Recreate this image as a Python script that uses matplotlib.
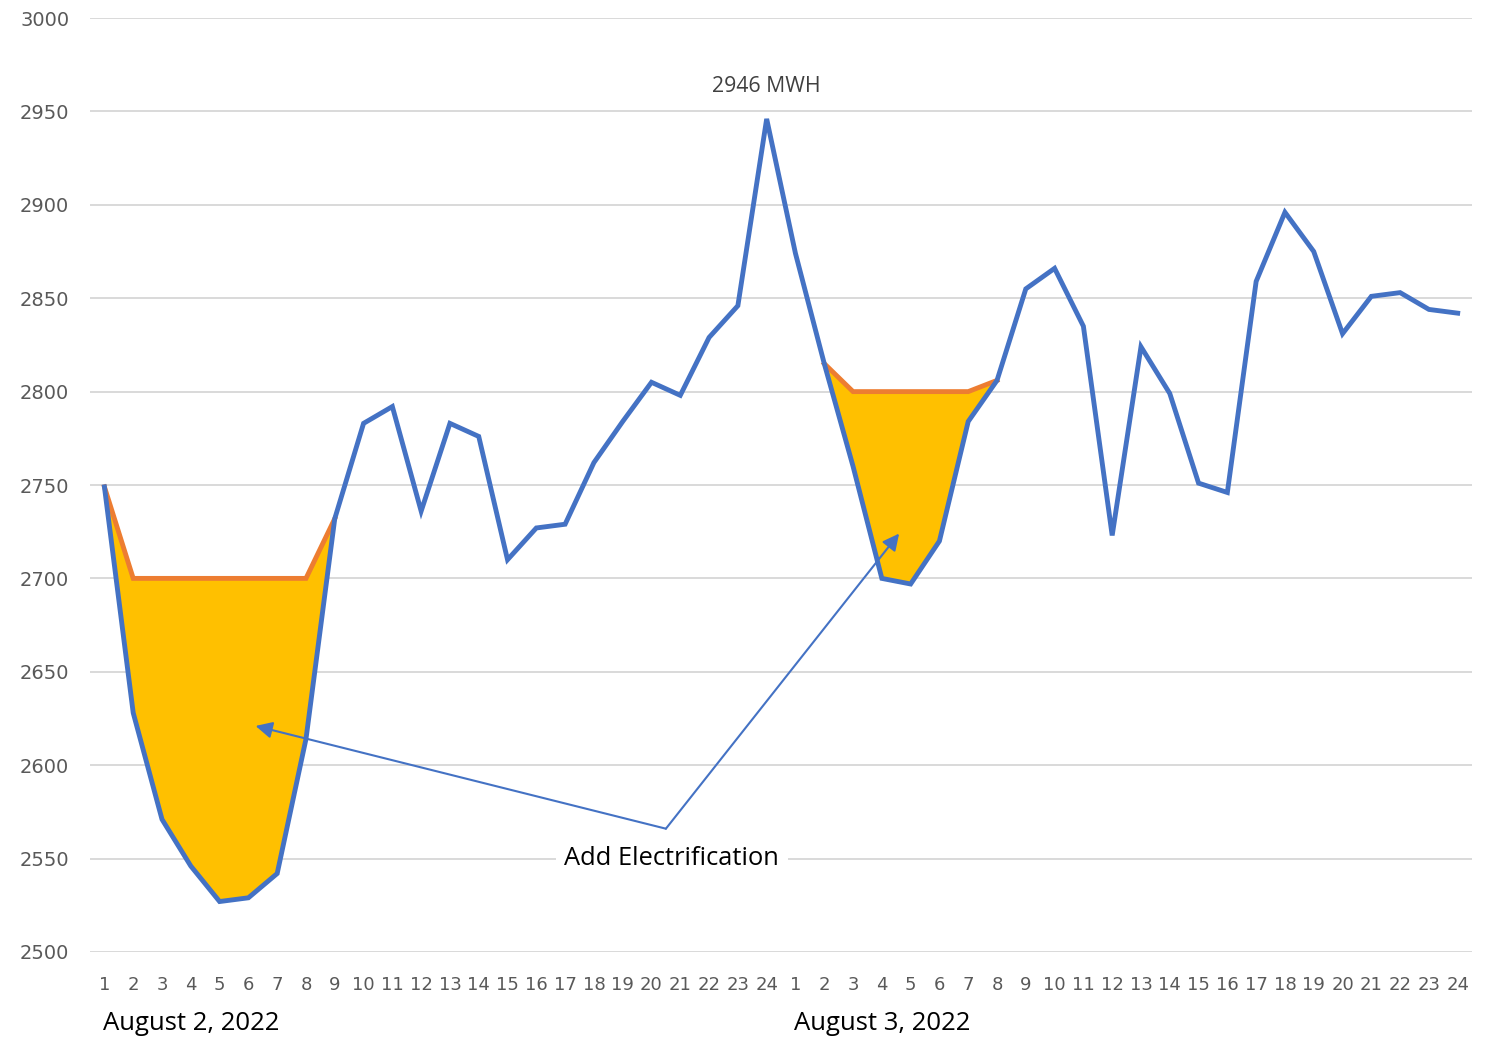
import matplotlib
matplotlib.use('Agg')
import matplotlib.pyplot as plt
import numpy as np

## DADOS
hours = list(range(1, 25)) * 2
load = [2749, 2628, 2571, 2546, 2527, 2529, 2542, 2614, 2732, 2783, 2792, 2736,
        2783, 2776, 2710, 2727, 2729, 2762, 2784, 2805, 2798, 2829, 2846, 2946,
        2874, 2815, 2760, 2700, 2697, 2720, 2784, 2806, 2855, 2866, 2835, 2723,
        2824, 2799, 2751, 2746, 2859, 2896, 2875, 2831, 2851, 2853, 2844, 2842]
# carga com eletrificacao (None onde igual a carga)
electrified = [2749, 2700, 2700, 2700, 2700, 2700, 2700, 2700, 2732, None, None, None,
               None, None, None, None, None, None, None, None, None, None, None, None,
               None, 2815, 2800, 2800, 2800, 2800, 2800, 2806, None, None, None, None,
               None, None, None, None, None, None, None, None, None, None, None, None]
day_labels = ['August 2, 2022', 'August 3, 2022']
peak_label = '2946 MWH'
note_text = 'Add Electrification'

# posicoes das setas (dados)
arrow_start = (20.5, 2566)
arrow_heads = [(6.25, 2621), (28.6, 2724)]

BLUE = '#4472C4'
ORANGE = '#ED7D31'
GOLD = '#FFC000'

x = np.arange(1, len(load) + 1)
y = np.array(load, dtype=float)
e = np.array([np.nan if v is None else v for v in electrified], dtype=float)

fig = plt.figure(figsize=(14.93, 10.37), dpi=100)
ax = fig.add_axes([0.0603, 0.082, 0.9257, 0.9006])

ax.fill_between(x, y, e, where=~np.isnan(e), color=GOLD, linewidth=0, zorder=2)
ax.plot(x, e, color=ORANGE, linewidth=3.5, solid_joinstyle='miter', zorder=3)
ax.plot(x, y, color=BLUE, linewidth=3.5, solid_joinstyle='miter', zorder=4)

ax.set_xlim(0.5, len(load) + 0.5)
ax.set_ylim(2500, 3000)
ax.set_yticks(np.arange(2500, 3001, 50))
ax.set_xticks(x)
ax.set_xticklabels([str(h) for h in hours])
ax.grid(axis='y', color='#D9D9D9', linewidth=1.4, zorder=0)
ax.set_axisbelow(True)
for s in ax.spines.values():
    s.set_visible(False)
ax.tick_params(length=0, labelcolor='#595959')
ax.tick_params(axis='y', pad=15, labelsize=14)
ax.tick_params(axis='x', pad=17, labelsize=13)

# pico
ipk = int(np.argmax(y))
ax.annotate(peak_label, xy=(x[ipk], y[ipk]), xytext=(0, 23), textcoords='offset points',
            ha='center', va='center', fontsize=15.3, color='#404040',
            family=['Open Sans', 'DejaVu Sans'])

# setas
for hx, hy in arrow_heads:
    ax.annotate('', xy=(hx, hy), xytext=arrow_start,
                arrowprops=dict(arrowstyle='-|>', color=BLUE, lw=1.5,
                                mutation_scale=25, shrinkA=0, shrinkB=0), zorder=5)

ax.text(20.7, 2550, note_text, ha='center', va='center', fontsize=18.4, color='black',
        family=['Open Sans', 'DejaVu Sans'],
        bbox=dict(facecolor='white', edgecolor='none', pad=6), zorder=6)

# datas
for i, d in enumerate(day_labels):
    ax.text(1 + 24 * i - 0.05, -0.077, d, transform=ax.get_xaxis_transform(),
            ha='left', va='center', fontsize=18.5, color='black',
            family=['Open Sans', 'DejaVu Sans'])

fig.savefig('out.png', dpi=100)
